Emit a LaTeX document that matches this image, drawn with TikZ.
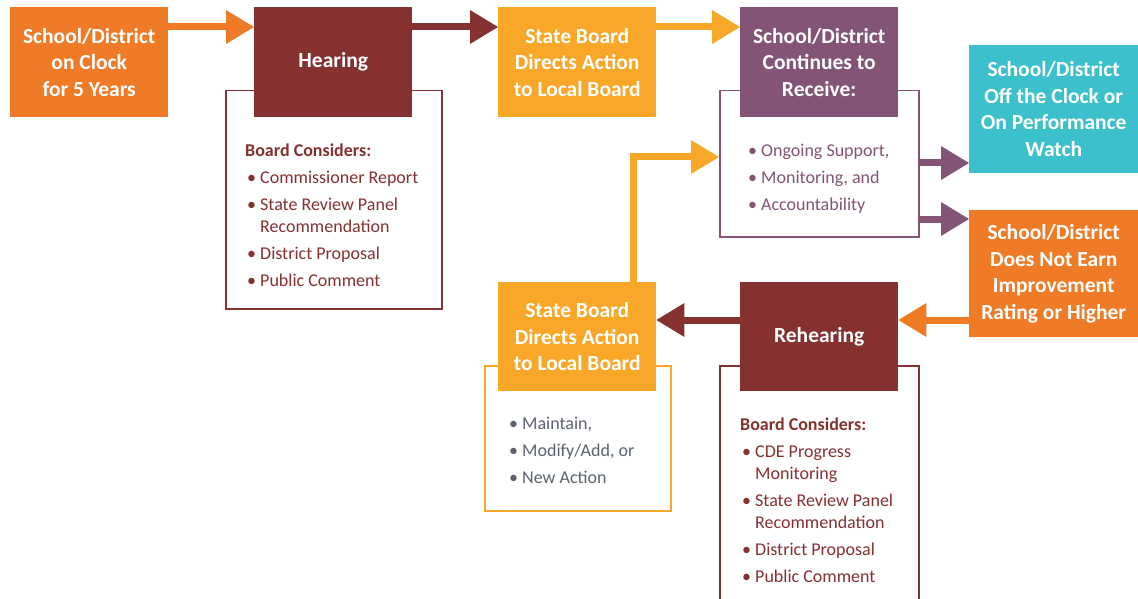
\documentclass[tikz,border=0pt]{standalone}
\usepackage{fontspec}
\setmainfont{Carlito}
\usetikzlibrary{arrows.meta,calc}
\definecolor{clkorange}{HTML}{EF7B27}
\definecolor{hearred}{HTML}{85312F}
\definecolor{boardamber}{HTML}{F9A729}
\definecolor{supportpurple}{HTML}{835475}
\definecolor{watchteal}{HTML}{3CC0CC}
\definecolor{actiongray}{HTML}{5B636E}
% bulleted lines inside the outline boxes
\newcommand{\bul}[1]{\hspace*{2pt}\makebox[13pt][l]{\textbullet}#1}
\newcommand{\cont}[1]{\hspace*{15pt}#1}
\tikzset{
  stepbox/.style={fill=#1, text=white, font=\bfseries\fontsize{21.5}{26.5}\selectfont,
    align=center, inner sep=0pt, anchor=north west},
  outlinebox/.style={draw=#1, line width=1.5pt, fill=white, inner sep=0pt, anchor=north west},
  listtext/.style={text=#1, font=\fontsize{18}{22}\selectfont, align=left,
    inner sep=0pt, anchor=north west},
  blockarrow/.style={draw=#1, line width=7pt, line join=miter,
    -{Triangle[length=28pt,width=34pt,line width=0pt,fill=#1]}}
}
\begin{document}
\begin{tikzpicture}[x=1pt,y=-1pt]
    \useasboundingbox (0,0) rectangle (1138,599);
    \clip (0,0) rectangle (1138,599);
    % outline boxes behind the steps
    \node[outlinebox=hearred, minimum width=216pt, minimum height=218pt] (hearbox) at (225,90) {};
    \node[outlinebox=supportpurple, minimum width=199pt, minimum height=146pt] (contbox) at (719,90) {};
    \node[outlinebox=boardamber, minimum width=186pt, minimum height=145pt] (actbox) at (484,365) {};
    \node[outlinebox=hearred, minimum width=199pt, minimum height=260pt] (rehearbox) at (719,365) {};
    %
    \node[stepbox=clkorange, minimum width=158pt, minimum height=110pt] (clock) at (10,7)
        {School/District\\on Clock\\for 5 Years};
    \node[stepbox=hearred, minimum width=158pt, minimum height=110pt] (hearing) at (254,7) {Hearing};
    \node[stepbox=boardamber, minimum width=158pt, minimum height=110pt] (board) at (498,7)
        {State Board\\Directs Action\\to Local Board};
    \node[stepbox=supportpurple, minimum width=158pt, minimum height=110pt] (receive) at (740,7)
        {School/District\\Continues to\\Receive:};
    \node[stepbox=watchteal, minimum width=169pt, minimum height=128pt] (offclock) at (969,45)
        {School/District\\Off the Clock or\\On Performance\\Watch};
    \node[stepbox=clkorange, minimum width=169pt, minimum height=127pt] (notearn) at (969,210)
        {School/District\\Does Not Earn\\Improvement\\Rating or Higher};
    \node[stepbox=hearred, minimum width=158pt, minimum height=109pt] (rehearing) at (740,282) {Rehearing};
    \node[stepbox=boardamber, minimum width=158pt, minimum height=109pt] (reboard) at (498,282)
        {State Board\\Directs Action\\to Local Board};
    %
    \node[listtext=hearred] (hearlist) at (245,144) {%
        \textbf{Board Considers:}\\[5pt]
        \bul{Commissioner Report}\\[5pt]
        \bul{State Review Panel}\\
        \cont{Recommendation}\\[5pt]
        \bul{District Proposal}\\[5pt]
        \bul{Public Comment}};
    \node[listtext=supportpurple] (contlist) at (746,144) {%
        \bul{Ongoing Support,}\\[5pt]
        \bul{Monitoring, and}\\[5pt]
        \bul{Accountability}};
    \node[listtext=actiongray] (actlist) at (507,417) {%
        \bul{Maintain,}\\[5pt]
        \bul{Modify/Add, or}\\[5pt]
        \bul{New Action}};
    \node[listtext=hearred] (rehearlist) at (740,418) {%
        \textbf{Board Considers:}\\[5pt]
        \bul{CDE Progress}\\
        \cont{Monitoring}\\[5pt]
        \bul{State Review Panel}\\
        \cont{Recommendation}\\[5pt]
        \bul{District Proposal}\\[5pt]
        \bul{Public Comment}};
    % arrows along the top row
    \coordinate (a1) at ($(clock.north east)+(0,20)$);
    \coordinate (a2) at ($(hearing.north east)+(0,20)$);
    \coordinate (a3) at ($(board.north east)+(0,20)$);
    \draw[blockarrow=clkorange] (a1) -- (a1 -| hearing.west);
    \draw[blockarrow=hearred] (a2) -- (a2 -| board.west);
    \draw[blockarrow=boardamber] (a3) -- (a3 -| receive.west);
    % out of the support box
    \coordinate (a4) at ($(contbox.north east)+(0,73)$);
    \coordinate (a5) at ($(contbox.north east)+(0,129)$);
    \draw[blockarrow=supportpurple] (a4) -- (a4 -| offclock.west);
    \draw[blockarrow=supportpurple] (a5) -- (a5 -| notearn.west);
    % bottom row, right to left
    \coordinate (a6) at ($(rehearing.north east)+(0,38)$);
    \draw[blockarrow=clkorange] (a6 -| notearn.west) -- (a6);
    \draw[blockarrow=hearred] (a6 -| rehearing.west) -- (a6 -| reboard.east);
    % back up into the support box
    \coordinate (a7) at ($(reboard.north east)+(-23,0)$);
    \coordinate (a8) at ($(contbox.north west)+(0,67)$);
    \draw[blockarrow=boardamber] (a7) |- (a8);
\end{tikzpicture}
\end{document}
